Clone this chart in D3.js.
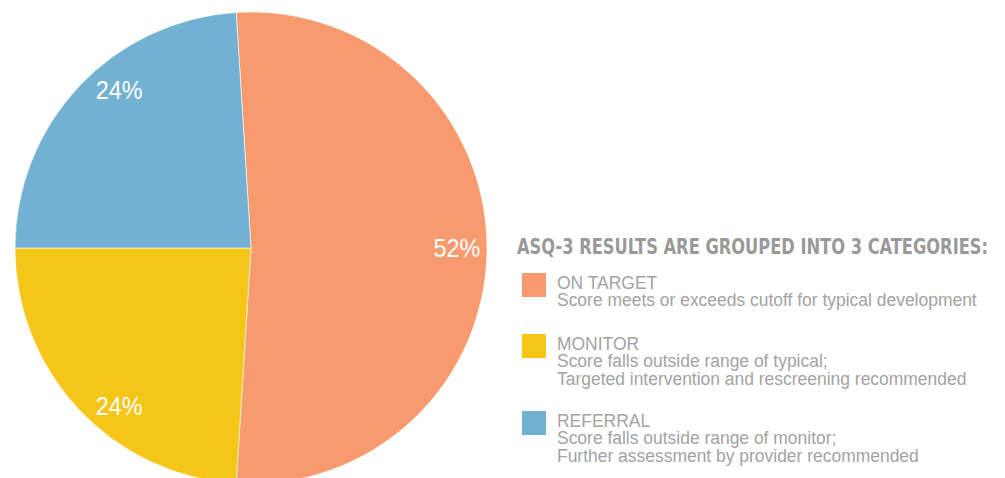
<!DOCTYPE html>
<html><head><meta charset="utf-8">
<script src="https://cdn.jsdelivr.net/npm/d3@7"></script>
<style>body{margin:0;background:#fff;}svg{display:block;}</style>
</head><body>
<svg id="chart" width="1005" height="478"></svg>
<script>
const categories = ["ON TARGET", "MONITOR", "REFERRAL"];
const values = [52, 24, 24];
const colors = ["#F79B6F", "#F5C518", "#73B1D2"];
const descriptions = [
  ["Score meets or exceeds cutoff for typical development"],
  ["Score falls outside range of typical;", "Targeted intervention and rescreening recommended"],
  ["Score falls outside range of monitor;", "Further assessment by provider recommended"]
];
const title = "ASQ-3 RESULTS ARE GROUPED INTO 3 CATEGORIES:";

const svg = d3.select("#chart");
const cx = 251, cy = 248, R = 236;
const startOffset = -3.6 * Math.PI / 180;

const pie = d3.pie().sort(null).value(d => d)
  .startAngle(startOffset).endAngle(startOffset + 2 * Math.PI);
const arcs = pie(values);
const arc = d3.arc().innerRadius(0).outerRadius(R);

const g = svg.append("g").attr("transform", `translate(${cx},${cy})`);
g.selectAll("path").data(arcs).join("path")
  .attr("d", arc)
  .attr("fill", (d, i) => colors[i])
  .attr("stroke", "#fff").attr("stroke-width", 0.6);

// label placement: radius ~0.87R, small slices' labels pulled toward the vertical
const labelR = 206;
const pull = 7 * Math.PI / 180;
function labelPos(d) {
  let a = (d.startAngle + d.endAngle) / 2;
  const na = ((a % (2 * Math.PI)) + 2 * Math.PI) % (2 * Math.PI);
  if (d.endAngle - d.startAngle < Math.PI) {
    // nearest vertical (0 or PI or 2PI)
    const targets = [0, Math.PI, 2 * Math.PI];
    let t = targets.reduce((p, c) => Math.abs(c - na) < Math.abs(p - na) ? c : p);
    a = na + (t > na ? pull : -pull);
  }
  return [Math.sin(a) * labelR, -Math.cos(a) * labelR];
}
g.selectAll("text.pct").data(arcs).join("text")
  .attr("class", "pct")
  .attr("transform", d => `translate(${labelPos(d)}) scale(0.9,1)`)
  .attr("text-anchor", "middle")
  .attr("dy", "0.35em")
  .attr("fill", "#fff")
  .attr("font-family", "'Liberation Sans', Arial, sans-serif")
  .attr("font-size", 26)
  .text(d => d.value + "%");

svg.append("text")
  .attr("x", 517).attr("y", 254)
  .attr("font-family", "'DejaVu Sans Condensed', 'Liberation Sans', sans-serif")
  .attr("font-weight", "bold")
  .attr("font-size", 22)
  .attr("fill", "#999999")
  .attr("textLength", 471).attr("lengthAdjust", "spacingAndGlyphs")
  .text(title);

const legendTop = [273, 334, 411];
const textX = 557;
const lg = svg.append("g");
const texts = [];
categories.forEach((c, i) => {
  lg.append("rect").attr("x", 522).attr("y", legendTop[i]).attr("width", 24).attr("height", 24)
    .attr("fill", colors[i]);
  const t = lg.append("text")
    .attr("font-family", "'Liberation Sans', Arial, sans-serif")
    .attr("font-size", 19).attr("fill", "#a3a3a3");
  const lines = [c].concat(descriptions[i]);
  lines.forEach((ln, j) => {
    t.append("tspan").attr("x", 0).attr("y", legendTop[i] + 16 + j * 17.5).text(ln);
  });
  texts.push(t);
});
// condense legend text horizontally so the longest description spans the reference width
const natural = texts[0].select("tspan:nth-child(2)").node().getComputedTextLength();
const sx = 420 / natural;
texts.forEach(t => t.attr("transform", `translate(${textX},0) scale(${sx},1)`));
</script>
</body></html>
